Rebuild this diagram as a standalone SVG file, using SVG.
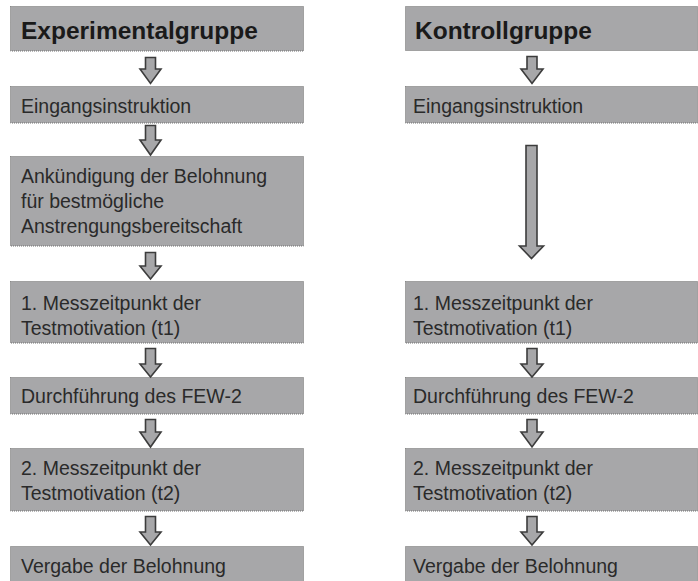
<svg xmlns="http://www.w3.org/2000/svg" width="698" height="581" viewBox="0 0 698 581">
<style>
.box{fill:#a7a7a9;stroke:#6e6e6e;stroke-width:1;stroke-dasharray:1 1}
.arr{fill:#a7a7a9;stroke:#3c3c3c;stroke-width:1.6;stroke-linejoin:miter}
.t{font-family:"Liberation Sans",Arial,sans-serif;font-size:19.5px;fill:#2a2a2a}
.h{font-family:"Liberation Sans",Arial,sans-serif;font-size:24.5px;font-weight:bold;fill:#1a1a1a}
</style>
<rect width="698" height="581" fill="#ffffff"/>
<g id="exp-header"><rect class="box" x="10.5" y="6.5" width="293" height="44.5"/><text class="h" x="21" y="39">Experimentalgruppe</text></g>
<g id="exp-eingang"><rect class="box" x="10.5" y="86.5" width="293" height="36.5"/><text class="t" x="21" y="113">Eingangsinstruktion</text></g>
<g id="exp-ankuendigung"><rect class="box" x="10.5" y="156.5" width="293" height="89.5"/><text class="t" x="21" y="183">Ankündigung der Belohnung</text><text class="t" x="21" y="208">für bestmögliche</text><text class="t" x="21" y="233">Anstrengungsbereitschaft</text></g>
<g id="exp-t1"><rect class="box" x="10.5" y="281.5" width="293" height="61.5"/><text class="t" x="21" y="310">1. Messzeitpunkt der</text><text class="t" x="21" y="335">Testmotivation (t1)</text></g>
<g id="exp-few"><rect class="box" x="10.5" y="377.5" width="293" height="36.5"/><text class="t" x="21" y="403">Durchführung des FEW-2</text></g>
<g id="exp-t2"><rect class="box" x="10.5" y="448.5" width="293" height="62.5"/><text class="t" x="21" y="475">2. Messzeitpunkt der</text><text class="t" x="21" y="500">Testmotivation (t2)</text></g>
<g id="exp-vergabe"><rect class="box" x="10.5" y="546.5" width="293" height="40"/><text class="t" x="21" y="573">Vergabe der Belohnung</text></g>

<g id="kon-header"><rect class="box" x="405.5" y="6.5" width="292" height="44"/><text class="h" x="415" y="39">Kontrollgruppe</text></g>
<g id="kon-eingang"><rect class="box" x="405.5" y="86.5" width="292" height="36.5"/><text class="t" x="413" y="113">Eingangsinstruktion</text></g>
<g id="kon-t1"><rect class="box" x="405.5" y="281.5" width="292" height="61.5"/><text class="t" x="413" y="310">1. Messzeitpunkt der</text><text class="t" x="413" y="335">Testmotivation (t1)</text></g>
<g id="kon-few"><rect class="box" x="405.5" y="377.5" width="292" height="36.5"/><text class="t" x="413" y="403">Durchführung des FEW-2</text></g>
<g id="kon-t2"><rect class="box" x="405.5" y="448.5" width="292" height="62.5"/><text class="t" x="413" y="475">2. Messzeitpunkt der</text><text class="t" x="413" y="500">Testmotivation (t2)</text></g>
<g id="kon-vergabe"><rect class="box" x="405.5" y="546.5" width="292" height="40"/><text class="t" x="413" y="573">Vergabe der Belohnung</text></g>

<g id="connectors">
<path class="arr" d="M145.5 57.5H155.5V69H161L150.5 83.5L140 69H145.5Z"/>
<path class="arr" d="M145.5 125.5H155.5V140H161L150.5 155L140 140H145.5Z"/>
<path class="arr" d="M145.5 252.5H155.5V266H161L150.5 279L140 266H145.5Z"/>
<path class="arr" d="M145.5 348.5H155.5V364H161L150.5 377L140 364H145.5Z"/>
<path class="arr" d="M145.5 419.5H155.5V432H161L150.5 447L140 432H145.5Z"/>
<path class="arr" d="M145.5 516.5H155.5V532H161L150.5 545L140 532H145.5Z"/>

<path class="arr" d="M527 56.5H537V69H543L532 83.5L521 69H527Z"/>
<path class="arr" d="M526 145.5H537V246H543.5L531.5 258.5L519.5 246H526Z"/>
<path class="arr" d="M527 348.5H537V364H543L532 377L521 364H527Z"/>
<path class="arr" d="M527 419.5H537V432H543L532 447L521 432H527Z"/>
<path class="arr" d="M527 516.5H537V532H543L532 545L521 532H527Z"/>
</g>
</svg>
